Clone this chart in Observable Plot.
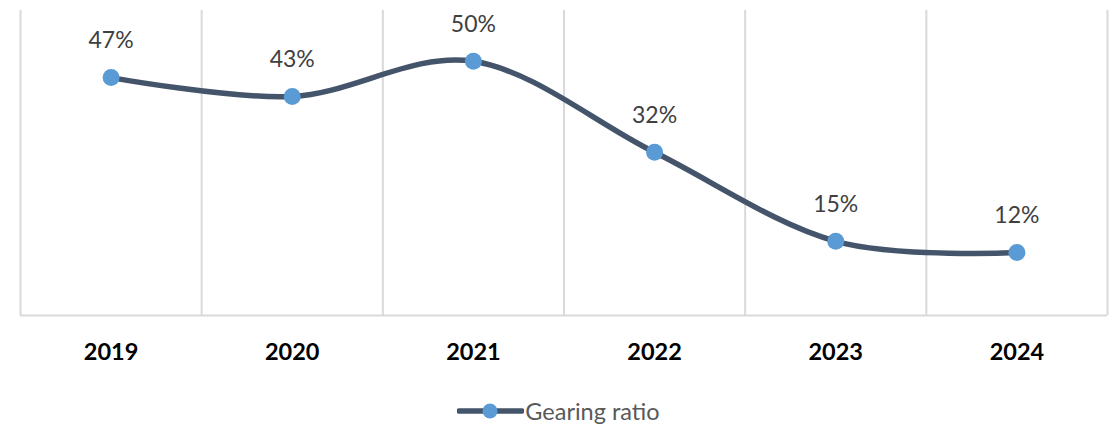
<!DOCTYPE html>
<html>
<head>
<meta charset="utf-8">
<script src="https://cdn.jsdelivr.net/npm/d3@7"></script>
<script src="https://cdn.jsdelivr.net/npm/@observablehq/plot@0.6"></script>
<style>
  html, body { margin: 0; padding: 0; background: #fff; }
  #chart svg { display: block; }
  #legend { height: 41px; display: flex; justify-content: center; align-items: center; font-family: Lato, "Open Sans", sans-serif; font-size: 23.5px; color: #595959; }
  #legend svg { display: block; }
</style>
</head>
<body>
<div id="chart"></div>
<div id="legend"></div>
<script>
const years = [2019, 2020, 2021, 2022, 2023, 2024];
const gearing = [0.468, 0.431, 0.500, 0.321, 0.146, 0.124];
const seriesName = "Gearing ratio";

const data = years.map((y, i) => ({year: y, value: gearing[i]}));
const bounds = [years[0] - 0.5, ...years.map(y => y + 0.5)];

const lineColor = "#44546a";
const dotColor = "#5b9bd5";
const gridColor = "#d9d9d9";

const chart = Plot.plot({
  width: 1117,
  height: 390,
  marginLeft: 20,
  marginRight: 10,
  marginTop: 10,
  marginBottom: 75,
  style: {fontFamily: "Lato, 'Open Sans', sans-serif", background: "#fff"},
  x: {type: "linear", domain: [years[0] - 0.5, years[years.length - 1] + 0.5]},
  y: {domain: [0, 0.6], axis: null},
  marks: [
    Plot.ruleX(bounds, {x: d => d, y1: 0, y2: 0.6, stroke: gridColor, strokeWidth: 2}),
    Plot.ruleY([0], {x1: bounds[0], x2: bounds[bounds.length - 1], stroke: gridColor, strokeWidth: 2}),
    Plot.axisX({ticks: years, tickFormat: d => String(d), tickSize: 0, tickPadding: 28,
      fontSize: 23.5, fontWeight: "bold", fill: "#000", label: null}),
    Plot.line(data, {x: "year", y: "value", stroke: lineColor, strokeWidth: 5.5, curve: "cardinal", tension: 0}),
    Plot.dot(data, {x: "year", y: "value", r: 8.5, fill: dotColor, stroke: "none"}),
    Plot.text(data, {x: "year", y: "value", text: d => Math.round(d.value * 100) + "%", dy: -37,
      fontSize: 23, fill: "#404040"})
  ]
});
document.getElementById("chart").appendChild(chart);

// legend
const leg = d3.select("#legend");
const sw = leg.append("svg").attr("width", 67).attr("height", 20);
sw.append("line").attr("x1", 2).attr("x2", 65).attr("y1", 10).attr("y2", 10)
  .attr("stroke", lineColor).attr("stroke-width", 5.5).attr("stroke-linecap", "round");
sw.append("circle").attr("cx", 33).attr("cy", 10).attr("r", 7.5).attr("fill", dotColor);
leg.append("span").text(seriesName).style("margin-left", "1px");
</script>
</body>
</html>
